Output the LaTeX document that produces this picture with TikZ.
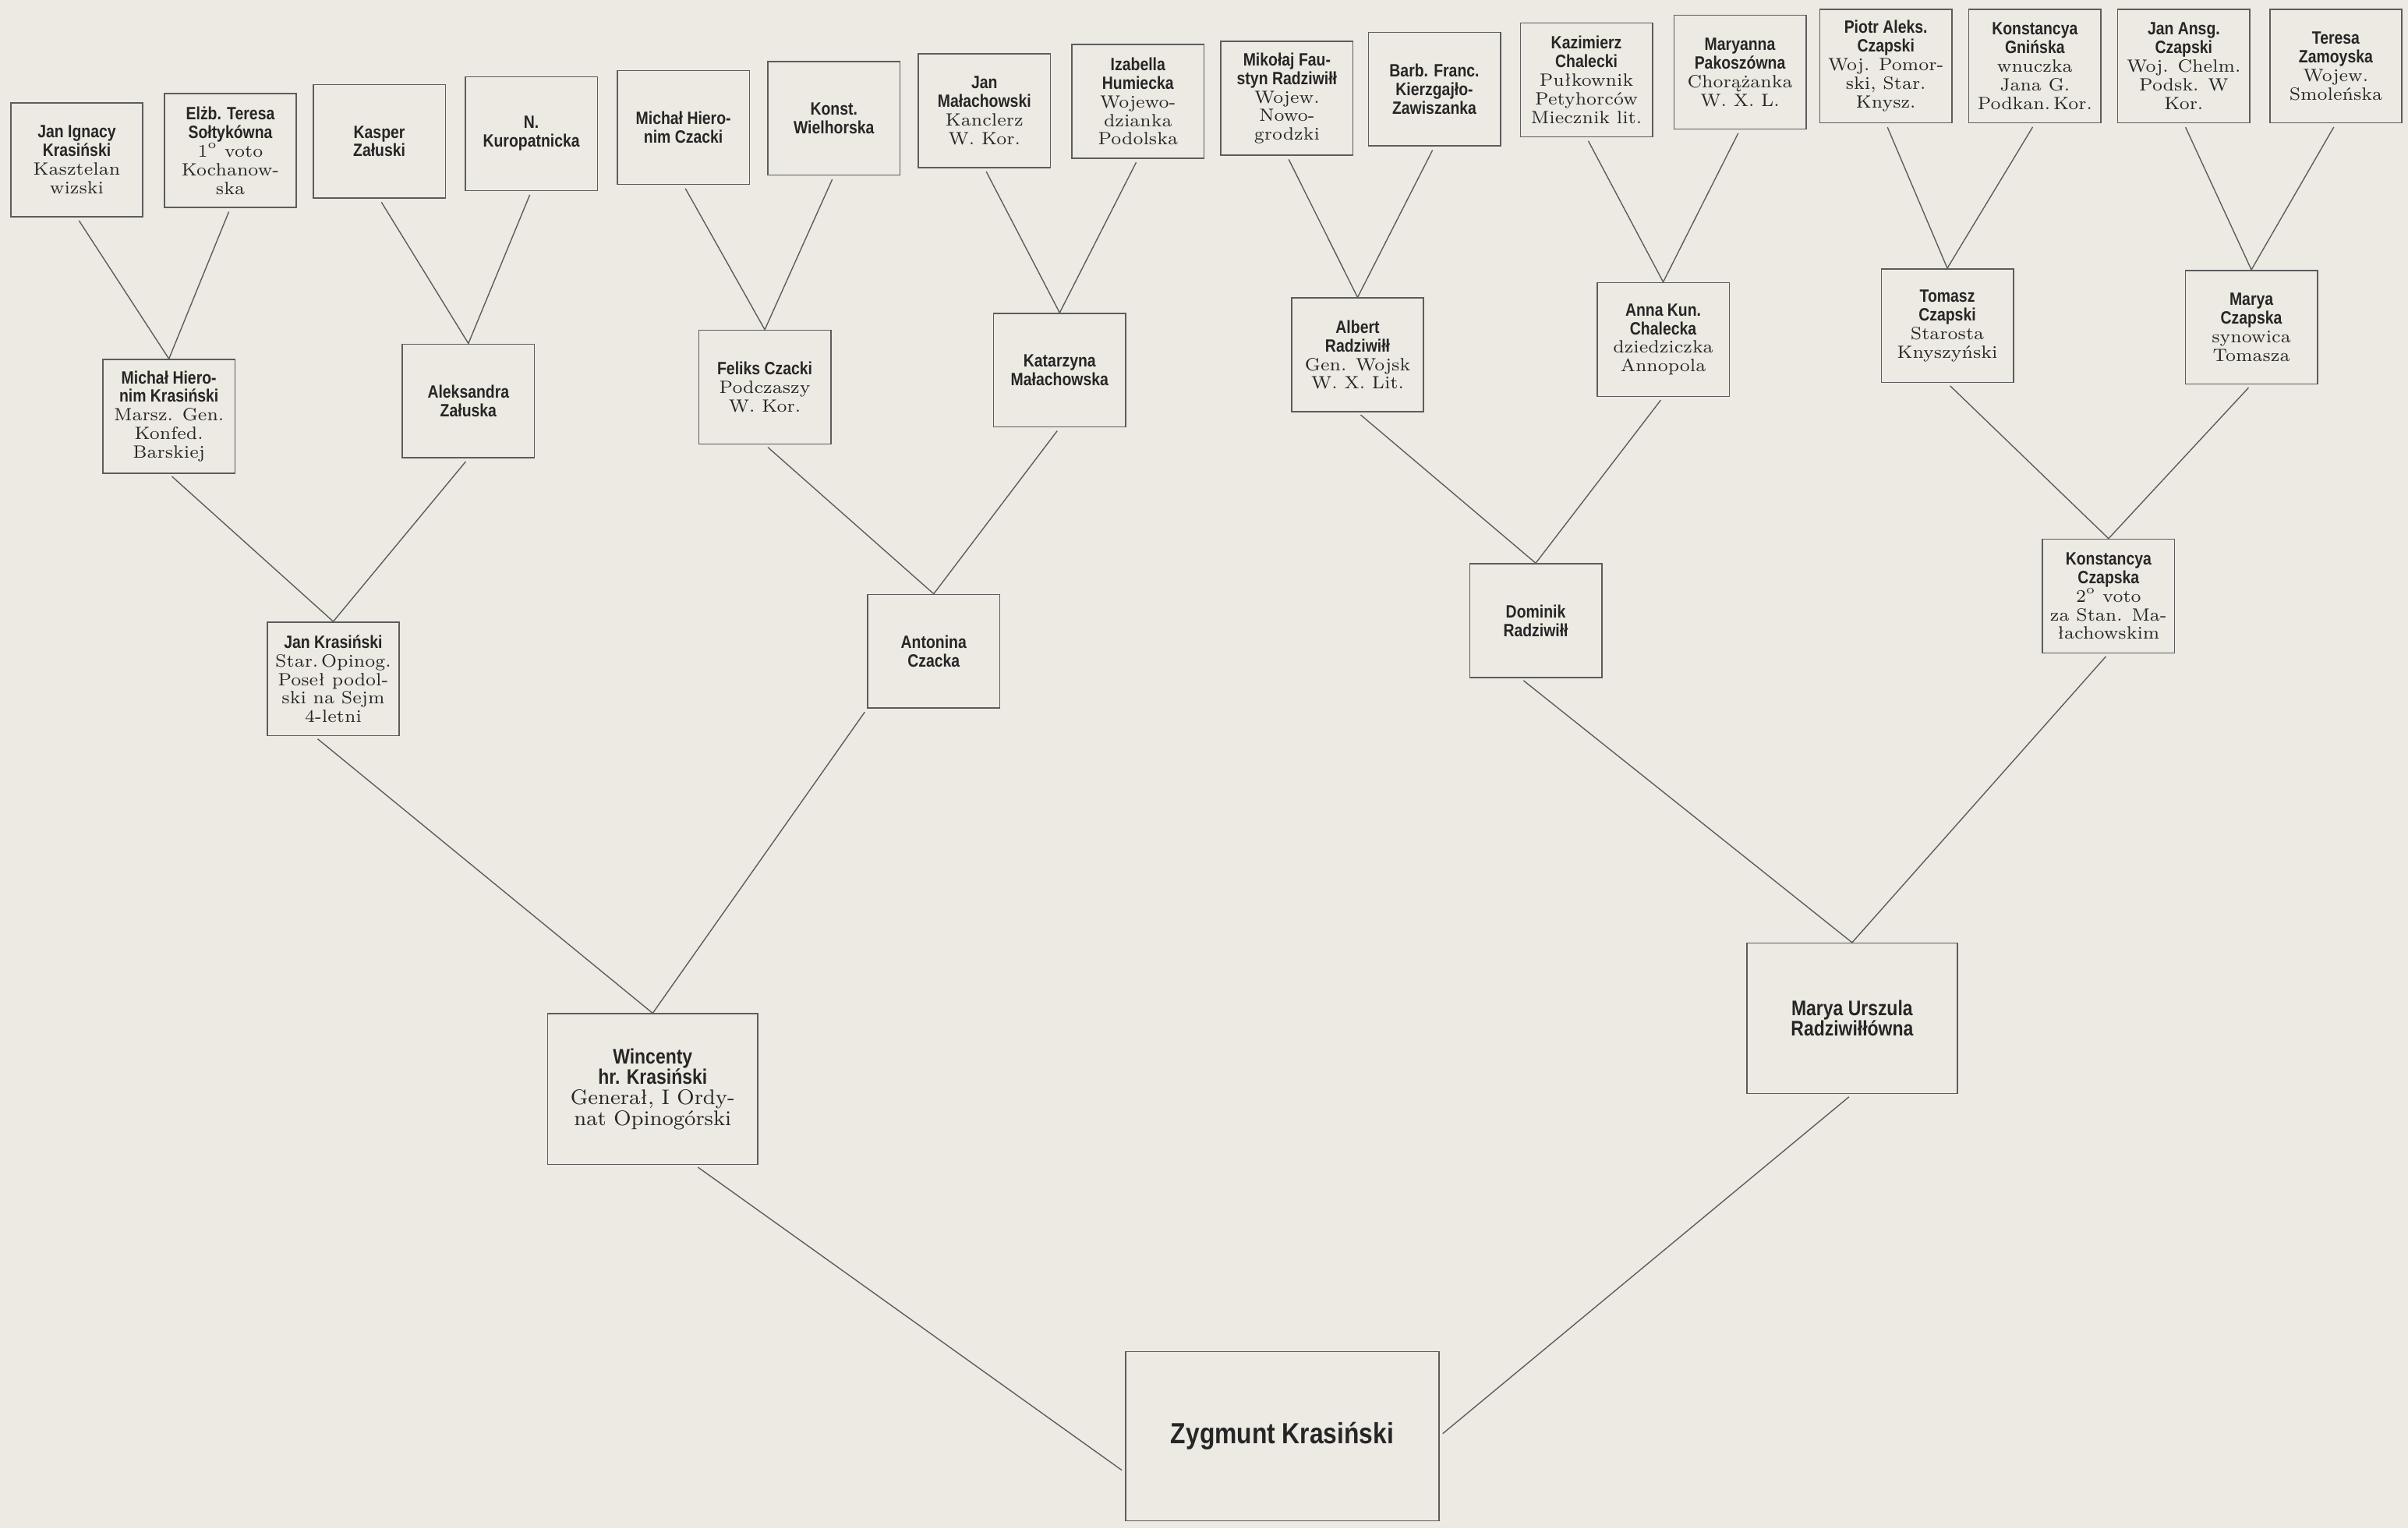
\documentclass[tikz,border=0pt]{standalone}
\usepackage{fontspec}
\usepackage{tikz}
\usetikzlibrary{calc}
\newfontfamily\namefont[FakeStretch=0.85]{Liberation Sans}
\definecolor{paper}{HTML}{ECEAE2}
\definecolor{ink}{HTML}{262626}
\definecolor{rule}{HTML}{5C5C5C}
\newcommand{\pname}[1]{{\namefont\bfseries #1}}
\tikzset{
  pbox/.style={draw=rule, line width=0.45pt, fill=paper, text=ink, align=center, inner sep=0pt,
    minimum width=17.2mm, minimum height=14.8mm, font=\fontsize{6.6}{6.9}\selectfont},
  wbox/.style={pbox, minimum width=27.4mm, minimum height=19.6mm, font=\fontsize{7.8}{7.6}\selectfont},
  zbox/.style={pbox, minimum width=40.8mm, minimum height=22mm, font=\fontsize{10.8}{12}\selectfont},
  kin/.style={draw=rule, line width=0.4pt, shorten <=1.5pt, shorten >=1.5pt}
}

\begin{document}
\begin{tikzpicture}[x=0.2mm, y=-0.2mm]
\fill[paper] (0,0) rectangle (1568,995);
\useasboundingbox (0,0) rectangle (1568,995);

% great-grandparents
\node[pbox] (janign)  at (50,104)   {\pname{Jan Ignacy}\\\pname{Krasiński}\\Kasztelan\\wizski};
\node[pbox] (soltyk)  at (150,98)   {\pname{Elżb. Teresa}\\\pname{Sołtykówna}\\1\textsuperscript{o} voto\\Kochanow-\\ska};
\node[pbox] (kasper)  at (247,92)   {\pname{Kasper}\\\pname{Załuski}};
\node[pbox] (kurop)   at (346,87)   {\pname{N.}\\\pname{Kuropatnicka}};
\node[pbox] (czackM)  at (445,83)   {\pname{Michał Hiero-}\\\pname{nim Czacki}};
\node[pbox] (wielh)   at (543,77)   {\pname{Konst.}\\\pname{Wielhorska}};
\node[pbox] (malJan)  at (641,72)   {\pname{Jan}\\\pname{Małachowski}\\Kanclerz\\W. Kor.};
\node[pbox] (humiec)  at (741,66)   {\pname{Izabella}\\\pname{Humiecka}\\Wojewo-\\dzianka\\Podolska};
\node[pbox] (mikol)   at (838,64)   {\pname{Mikołaj Fau-}\\\pname{styn Radziwiłł}\\Wojew.\\Nowo-\\grodzki};
\node[pbox] (kierz)   at (934,58)   {\pname{Barb. Franc.}\\\pname{Kierzgajło-}\\\pname{Zawiszanka}};
\node[pbox] (chalK)   at (1033,52)  {\pname{Kazimierz}\\\pname{Chalecki}\\Pułkownik\\Petyhorców\\Miecznik lit.};
\node[pbox] (pakosz)  at (1133,47)  {\pname{Maryanna}\\\pname{Pakoszówna}\\Chorążanka\\W. X. L.};
\node[pbox] (piotr)   at (1228,43)  {\pname{Piotr Aleks.}\\\pname{Czapski}\\Woj. Pomor-\\ski, Star.\\Knysz.};
\node[pbox] (gnin)    at (1325,43)  {\pname{Konstancya}\\\pname{Gnińska}\\wnuczka\\Jana G.\\Podkan.\,Kor.};
\node[pbox] (ansg)    at (1422,43)  {\pname{Jan Ansg.}\\\pname{Czapski}\\Woj. Chelm.\\Podsk. W\\Kor.};
\node[pbox] (zamoy)   at (1521,43)  {\pname{Teresa}\\\pname{Zamoyska}\\Wojew.\\Smoleńska};

% grandparents' parents
\node[pbox] (michK)   at (110,271)  {\pname{Michał Hiero-}\\\pname{nim Krasiński}\\Marsz. Gen.\\Konfed.\\Barskiej};
\node[pbox] (aleks)   at (305,261)  {\pname{Aleksandra}\\\pname{Załuska}};
\node[pbox] (feliks)  at (498,252)  {\pname{Feliks Czacki}\\Podczaszy\\W. Kor.};
\node[pbox] (katarz)  at (690,241)  {\pname{Katarzyna}\\\pname{Małachowska}};
\node[pbox] (albert)  at (884,231)  {\pname{Albert}\\\pname{Radziwiłł}\\Gen. Wojsk\\W. X. Lit.};
\node[pbox] (annaK)   at (1083,221) {\pname{Anna Kun.}\\\pname{Chalecka}\\dziedziczka\\Annopola};
\node[pbox] (tomasz)  at (1268,212) {\pname{Tomasz}\\\pname{Czapski}\\Starosta\\Knyszyński};
\node[pbox] (maryaC)  at (1466,213) {\pname{Marya}\\\pname{Czapska}\\synowica\\Tomasza};

% grandparents
\node[pbox] (janK)    at (217,442)  {\pname{Jan Krasiński}\\Star.\,Opinog.\\Poseł podol-\\ski na Sejm\\4-letni};
\node[pbox] (anton)   at (608,424)  {\pname{Antonina}\\\pname{Czacka}};
\node[pbox] (domin)   at (1000,404) {\pname{Dominik}\\\pname{Radziwiłł}};
\node[pbox] (konstC)  at (1373,388) {\pname{Konstancya}\\\pname{Czapska}\\2\textsuperscript{o} voto\\za Stan. Ma-\\łachowskim};

% parents and son
\node[wbox] (wincent) at (425,709)  {\pname{Wincenty}\\\pname{hr. Krasiński}\\Generał, I Ordy-\\nat Opinogórski};
\node[wbox] (maryaU)  at (1206,663) {\pname{Marya Urszula}\\\pname{Radziwiłłówna}};
\node[zbox] (zygm)    at (835,935)  {\pname{Zygmunt Krasiński}};

\draw[kin] (janign.south) -- (michK.north) -- (soltyk.south);
\draw[kin] (kasper.south) -- (aleks.north) -- (kurop.south);
\draw[kin] (czackM.south) -- (feliks.north) -- (wielh.south);
\draw[kin] (malJan.south) -- (katarz.north) -- (humiec.south);
\draw[kin] (mikol.south) -- (albert.north) -- (kierz.south);
\draw[kin] (chalK.south) -- (annaK.north) -- (pakosz.south);
\draw[kin] (piotr.south) -- (tomasz.north) -- (gnin.south);
\draw[kin] (ansg.south) -- (maryaC.north) -- (zamoy.south);

\draw[kin] (michK.south) -- (janK.north) -- (aleks.south);
\draw[kin] (feliks.south) -- (anton.north) -- (katarz.south);
\draw[kin] (albert.south) -- (domin.north) -- (annaK.south);
\draw[kin] (tomasz.south) -- (konstC.north) -- (maryaC.south);

\draw[kin] (janK.-108) -- (wincent.north) -- (anton.south west);
\draw[kin] (domin.-105) -- (maryaU.north) -- (konstC.south);

\draw[kin] (wincent.-61) -- (zygm.193);
\draw[kin] (maryaU.south) -- (zygm.east);
\end{tikzpicture}
\end{document}
